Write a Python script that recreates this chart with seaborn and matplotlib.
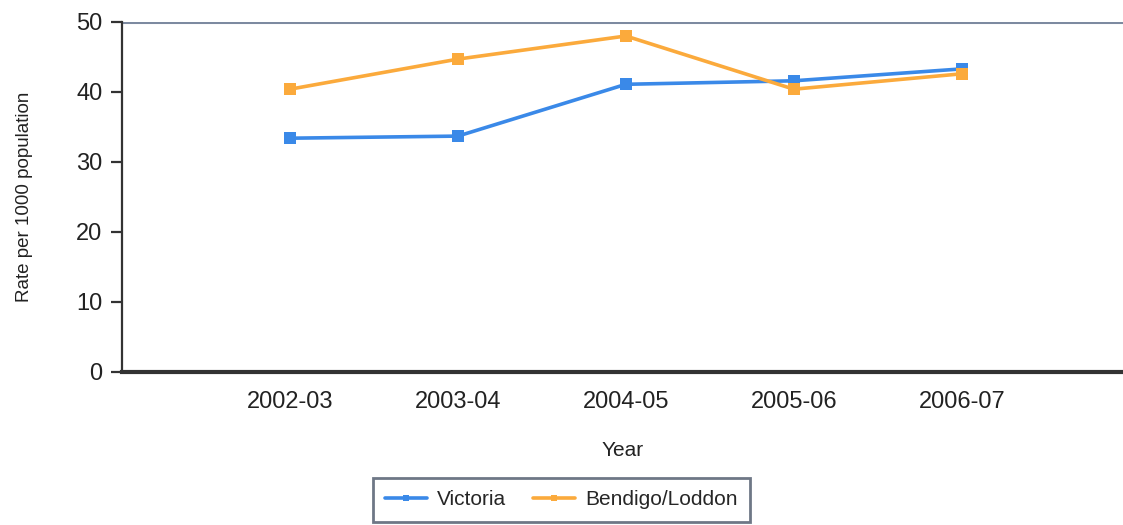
import pandas as pd
import seaborn as sns
import matplotlib.pyplot as plt

years = ["2002-03", "2003-04", "2004-05", "2005-06", "2006-07"]
victoria = [33.4, 33.7, 41.1, 41.6, 43.3]
bendigo = [40.4, 44.7, 48.0, 40.4, 42.6]

palette = {"Victoria": "#3a89e8", "Bendigo/Loddon": "#fbaa3c"}

df = pd.concat([
    pd.DataFrame({"Year": years, "rate": victoria, "Region": "Victoria"}),
    pd.DataFrame({"Year": years, "rate": bendigo, "Region": "Bendigo/Loddon"}),
])

sns.set_style("white")
plt.rcParams["font.family"] = ["Liberation Sans", "DejaVu Sans"]

fig = plt.figure(figsize=(11.23, 5.25), dpi=100)
ax = fig.add_axes([122 / 1123, 153 / 525, 1001 / 1123, 350 / 525])

sns.lineplot(data=df, x="Year", y="rate", hue="Region", palette=palette,
             marker="s", markersize=8, markeredgewidth=0, linewidth=2.6,
             sort=False, ax=ax)

ax.set_xlim(-1, 4.96)
ax.set_ylim(0, 50)
ax.set_yticks([0, 10, 20, 30, 40, 50])
ax.axhline(50, color="#7d8aa0", linewidth=2.2, zorder=1)

for s in ["top", "right"]:
    ax.spines[s].set_visible(False)
ax.spines["left"].set_color("#333333")
ax.spines["left"].set_linewidth(1.6)
ax.spines["bottom"].set_color("#333333")
ax.spines["bottom"].set_linewidth(3)

ax.tick_params(axis="y", labelsize=17, length=8, width=1.6, color="#333333",
               left=True, pad=6, labelcolor="#222222")
ax.tick_params(axis="x", labelsize=17, length=0, pad=14, labelcolor="#222222")

ax.set_xlabel("Year", fontsize=15, color="#222222", labelpad=20)
ax.set_ylabel("Rate per 1000 population", fontsize=13.5, color="#222222", labelpad=31)

handles, labels = ax.get_legend_handles_labels()
ax.get_legend().remove()
leg = fig.legend(handles, labels, loc="lower center", bbox_to_anchor=(0.5, -0.01),
                 ncol=2, fontsize=15, frameon=True, fancybox=False,
                 edgecolor="#4a5568", handlelength=2.0, columnspacing=1.3,
                 borderpad=0.6, handletextpad=0.5, borderaxespad=0.4)
leg.get_frame().set_linewidth(2)
for h in leg.get_lines():
    h.set_markersize(5)
    h.set_linewidth(2.6)

plt.savefig("out.png", dpi=100)
